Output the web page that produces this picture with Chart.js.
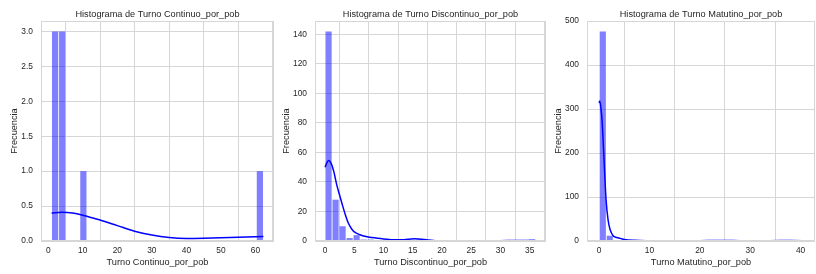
<!DOCTYPE html>
<html>
<head>
<meta charset="utf-8">
<script src="https://cdn.jsdelivr.net/npm/chart.js@4.4.1/dist/chart.umd.min.js"></script>
<style>
html,body{margin:0;padding:0;background:#fff;}
#wrap{position:relative;width:816px;height:274px;overflow:hidden;}
canvas{position:absolute;top:0;}
</style>
</head>
<body>
<div id="wrap">
<canvas id="c1" style="left:0px" width="275" height="274"></canvas>
<canvas id="c2" style="left:274px" width="273" height="274"></canvas>
<canvas id="c3" style="left:546px" width="270" height="274"></canvas>
</div>
<script>
// ---------- Panel 1: Turno Continuo_por_pob ----------
const p1Title = "Histograma de Turno Continuo_por_pob";
const p1XLabel = "Turno Continuo_por_pob";
const p1DataMin = 0.97, p1DataMax = 62.3;
const p1Counts = [3,3,0,0,1,0,0,0,0,0, 0,0,0,0,0,0,0,0,0,0, 0,0,0,0,0,0,0,0,0,1];
const p1KdeX = [0.97, 4, 7, 10, 15, 20, 25, 30, 35, 40, 45, 50, 55, 62.3];
const p1KdeY = [0.40, 0.41, 0.40, 0.37, 0.30, 0.22, 0.14, 0.085, 0.05, 0.037, 0.04, 0.046, 0.055, 0.065];
const p1XTicks = [0, 10, 20, 30, 40, 50, 60];
const p1YTicks = [0, 0.5, 1.0, 1.5, 2.0, 2.5, 3.0];

// ---------- Panel 2: Turno Discontinuo_por_pob ----------
const p2Title = "Histograma de Turno Discontinuo_por_pob";
const p2XLabel = "Turno Discontinuo_por_pob";
const p2DataMin = 0, p2DataMax = 36;
const p2Counts = [142,28,10,2,4,1,1,0,0,0, 0,0,0,1,0,0,0,0,0,0, 0,0,0,0,0,0,0,0,0,1];
const p2KdeX = [0, 0.3, 0.6, 1, 1.5, 2, 2.5, 3, 3.5, 4, 4.5, 5, 6, 7, 8, 9, 10, 12, 13.5, 15.3, 17, 18.5, 21, 25, 30, 33, 36];
const p2KdeY = [50, 53, 54.5, 53, 47, 38, 31, 24, 17.5, 12, 8.5, 6.2, 4.2, 3, 2.3, 1.8, 1.4, 0.8, 0.9, 1.5, 1.0, 0.4, 0.15, 0.1, 0.2, 0.35, 0.3];
const p2XTicks = [0, 5, 10, 15, 20, 25, 30, 35];
const p2YTicks = [0, 20, 40, 60, 80, 100, 120, 140];

// ---------- Panel 3: Turno Matutino_por_pob ----------
const p3Title = "Histograma de Turno Matutino_por_pob";
const p3XLabel = "Turno Matutino_por_pob";
const p3DataMin = 0.06, p3DataMax = 41.7;
const p3Counts = [476,12,2,0,0,0,0,0,0,0, 0,0,0,0,0,0,0,1,0,0, 0,0,0,0,0,0,1,0,0,1];
const p3KdeX = [0, 0.15, 0.4, 0.6, 1.0, 1.4, 1.8, 2.2, 2.8, 3.5, 4.2, 5, 7, 10, 15, 20, 23, 25, 28, 32, 36, 38, 41.7];
const p3KdeY = [314, 318, 300, 276, 185, 94, 48, 26, 12, 8, 6, 3.5, 1.5, 0.7, 0.4, 0.5, 1.2, 1.3, 0.5, 0.4, 1.0, 1.0, 0.6];
const p3XTicks = [0, 10, 20, 30, 40];
const p3YTicks = [0, 100, 200, 300, 400, 500];

const FONT = "'Liberation Sans', Arial, sans-serif";
const TEXT = '#262626';
const GRID = '#d6d6d6';

const framePlugin = {
  id: 'frame',
  afterDraw(chart) {
    const a = chart.chartArea, ctx = chart.ctx;
    ctx.save();
    ctx.strokeStyle = GRID;
    ctx.lineWidth = 1;
    ctx.strokeRect(Math.round(a.left) + 0.5, Math.round(a.top) + 0.5, Math.round(a.right - a.left) - 1, Math.round(a.bottom - a.top) - 1);
    ctx.restore();
  }
};

function makePanel(id, p) {
  const nb = p.counts.length;
  const w = (p.dataMax - p.dataMin) / nb;
  const bars = p.counts.map((c, i) => ({x: p.dataMin + (i + 0.5) * w, y: c}));
  const kde = p.kdeX.map((x, i) => ({x: x, y: p.kdeY[i]}));
  const margin = (p.dataMax - p.dataMin) * 0.05;
  new Chart(document.getElementById(id), {
    type: 'bar',
    data: {
      datasets: [
        {type: 'line', data: kde, borderColor: '#0000ff', borderWidth: 1.5, pointRadius: 0,
         cubicInterpolationMode: 'monotone', fill: false, order: 0},
        {type: 'bar', data: bars, backgroundColor: 'rgba(0,0,255,0.5)', borderWidth: 0,
         barPercentage: 0.88, categoryPercentage: 1, grouped: false, order: 1}
      ]
    },
    plugins: [framePlugin],
    options: {
      responsive: false,
      animation: false,
      devicePixelRatio: 1,
      layout: {padding: {left: 0, right: 1, top: 0, bottom: 0}},
      plugins: {
        legend: {display: false},
        tooltip: {enabled: false},
        title: {display: true, text: p.title, color: TEXT, fullSize: false,
                font: {family: FONT, size: 9.2, weight: 'normal'},
                padding: {top: 8.5, bottom: 1.5}}
      },
      scales: {
        x: {
          type: 'linear', offset: false,
          min: p.xMin !== undefined ? p.xMin : p.dataMin - margin,
          max: p.xMax !== undefined ? p.xMax : p.dataMax + margin,
          afterBuildTicks: s => { s.ticks = p.xTicks.map(v => ({value: v})); },
          afterFit: s => { s.height = 33; },
          ticks: {color: TEXT, font: {family: FONT, size: 8.4}, padding: 4.7, maxRotation: 0, autoSkip: false},
          grid: {color: GRID, lineWidth: 1, drawTicks: false},
          border: {display: false},
          title: {display: true, text: p.xLabel, color: TEXT, font: {family: FONT, size: 9.2},
                  padding: {top: 0, bottom: 5.8}}
        },
        y: {
          type: 'linear',
          min: 0, max: p.yMax,
          afterBuildTicks: s => { s.ticks = p.yTicks.map(v => ({value: v})); },
          afterFit: s => { s.width = 41; },
          ticks: {color: TEXT, font: {family: FONT, size: 8.4}, padding: 8,
                  callback: v => p.yFmt(v), autoSkip: false},
          grid: {color: GRID, lineWidth: 1, drawTicks: false},
          border: {display: false},
          title: {display: true, text: 'Frecuencia', color: TEXT, font: {family: FONT, size: 9.2},
                  padding: {top: p.yTitlePad, bottom: 0}}
        }
      }
    }
  });
}

makePanel('c1', {title: p1Title, xLabel: p1XLabel, dataMin: p1DataMin, dataMax: p1DataMax,
  counts: p1Counts, kdeX: p1KdeX, kdeY: p1KdeY, xTicks: p1XTicks, yTicks: p1YTicks,
  yMax: 3.15, yFmt: v => v.toFixed(1), yTitlePad: 8.5});
makePanel('c2', {title: p2Title, xLabel: p2XLabel, dataMin: p2DataMin, dataMax: p2DataMax,
  counts: p2Counts, kdeX: p2KdeX, kdeY: p2KdeY, xTicks: p2XTicks, yTicks: p2YTicks,
  xMin: -1.72, xMax: 37.8,
  yMax: 149.1, yFmt: v => String(v), yTitlePad: 6.5});
makePanel('c3', {title: p3Title, xLabel: p3XLabel, dataMin: p3DataMin, dataMax: p3DataMax,
  counts: p3Counts, kdeX: p3KdeX, kdeY: p3KdeY, xTicks: p3XTicks, yTicks: p3YTicks,
  xMin: -2.38, xMax: 42.86,
  yMax: 500, yFmt: v => String(v), yTitlePad: 7.2});
</script>
</body>
</html>
